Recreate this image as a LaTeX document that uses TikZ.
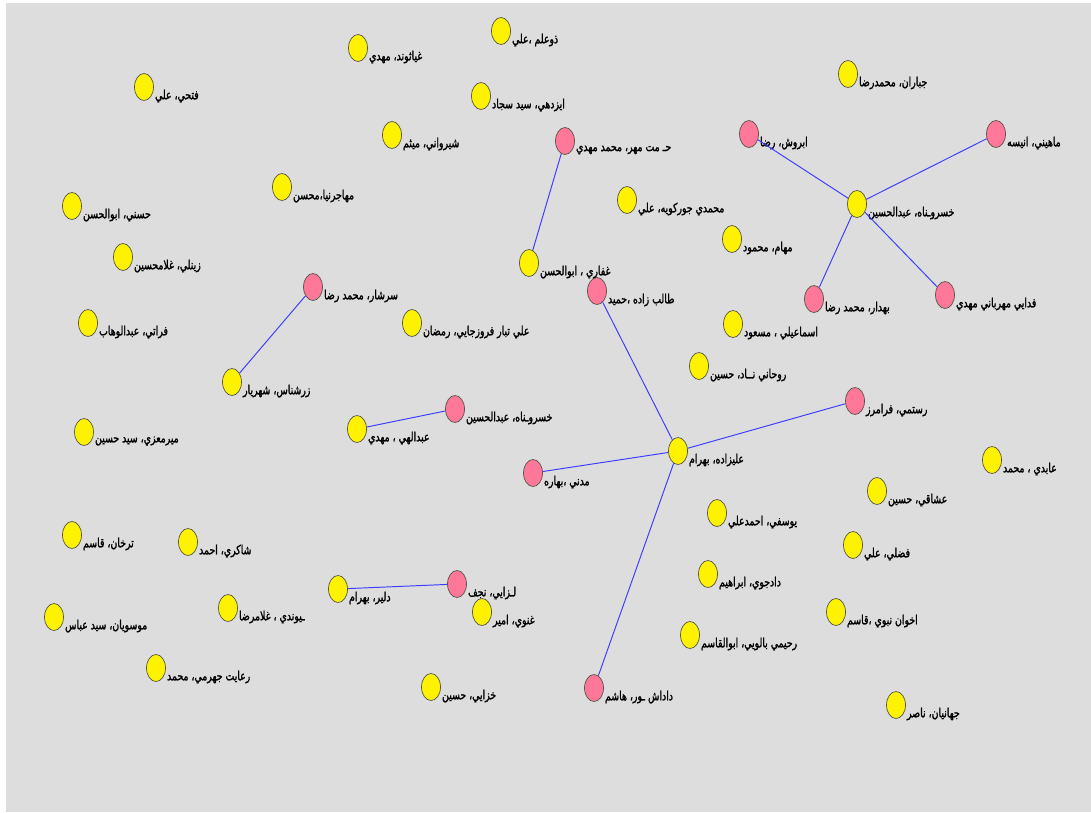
\documentclass[tikz,border=0pt]{standalone}
\usepackage{fontspec}
\usetikzlibrary{shapes.geometric}
\TeXXeTstate=1
\newfontfamily\arabicfont[Script=Arabic,FakeStretch=0.74,FakeBold=1.6]{DejaVu Sans}
\newcommand{\pname}[1]{{\arabicfont\beginR #1\endR}}
\definecolor{bggray}{RGB}{221,221,221}
\definecolor{nodepink}{RGB}{255,119,153}
\definecolor{nodeline}{RGB}{85,85,70}
\definecolor{linkblue}{RGB}{60,60,255}
\begin{document}
\begin{tikzpicture}[x=0.02cm,y=-0.02cm,member/.style={ellipse,draw=nodeline,line width=0.4pt,minimum width=0.38cm,minimum height=0.54cm,inner sep=0pt},plain/.style={member,fill=yellow},linked/.style={member,fill=nodepink},tag/.style={anchor=west,inner sep=0.5pt,yshift=-0.18cm,font=\fontsize{7.2}{8}\selectfont},tie/.style={draw=linkblue,line width=0.55pt}]
\fill[white] (0,0) rectangle (1091,812);
\fill[bggray] (6,3) rectangle (1091,812);
% people
\node[plain] (fathi) at (144,87) {};
\node[plain] (hasani) at (72,206) {};
\node[plain] (zeinali) at (123,257) {};
\node[plain] (zolelm) at (501,31) {};
\node[plain] (ghiasvand) at (358,48) {};
\node[plain] (izadi) at (481,96) {};
\node[plain] (shirvani) at (392,135) {};
\node[plain] (mohajer) at (282,187) {};
\node[plain] (ghaffari) at (529,263) {};
\node[linked] (hekmat) at (565,141) {};
\node[linked] (abravesh) at (749,134) {};
\node[plain] (mohammadi) at (627,200) {};
\node[plain] (mahaam) at (732,239) {};
\node[plain] (jabbaran) at (848,74) {};
\node[linked] (mahini) at (996,134) {};
\node[plain] (khosroA) at (857,204) {};
\node[plain] (forati) at (88,323) {};
\node[plain] (zarshenas) at (232,382) {};
\node[plain] (mirmoezi) at (84,432) {};
\node[plain] (tarkhan) at (72,535) {};
\node[plain] (shakeri) at (188,542) {};
\node[linked] (sarshar) at (313,287) {};
\node[plain] (alitabar) at (412,323) {};
\node[linked] (khosroB) at (455,409) {};
\node[plain] (abdollahi) at (357,429) {};
\node[linked] (madani) at (533,473) {};
\node[linked] (talebzadeh) at (597,291) {};
\node[plain] (esmaili) at (733,324) {};
\node[plain] (rouhani) at (699,366) {};
\node[plain] (alizadeh) at (678,451) {};
\node[plain] (yousefi) at (717,513) {};
\node[linked] (behdar) at (814,299) {};
\node[linked] (fadaei) at (945,295) {};
\node[linked] (rostami) at (855,401) {};
\node[plain] (abedi) at (992,460) {};
\node[plain] (oshaghi) at (877,491) {};
\node[plain] (fazli) at (853,545) {};
\node[plain] (mousavian) at (54,617) {};
\node[plain] (peivandi) at (228,608) {};
\node[plain] (reayat) at (156,668) {};
\node[plain] (dalir) at (338,589) {};
\node[linked] (lakzaei) at (457,584) {};
\node[plain] (ghanavi) at (482,612) {};
\node[plain] (khazaei) at (431,687) {};
\node[plain] (dadjoo) at (708,574) {};
\node[plain] (rahimi) at (690,635) {};
\node[linked] (dadashpour) at (594,688) {};
\node[plain] (akhavan) at (836,612) {};
\node[plain] (jahanian) at (896,705) {};
% names
\node[tag] (fathi-n) at (fathi.east) {\pname{فتحي، علي}};
\node[tag] (hasani-n) at (hasani.east) {\pname{حسني، ابوالحسن}};
\node[tag] (zeinali-n) at (zeinali.east) {\pname{زينلي، غلامحسين}};
\node[tag] (zolelm-n) at (zolelm.east) {\pname{ذوعلم ،علي}};
\node[tag] (ghiasvand-n) at (ghiasvand.east) {\pname{غياثوند، مهدي}};
\node[tag] (izadi-n) at (izadi.east) {\pname{ايزدهي، سيد سجاد}};
\node[tag] (shirvani-n) at (shirvani.east) {\pname{شيرواني، ميثم}};
\node[tag] (mohajer-n) at (mohajer.east) {\pname{مهاجرنيا،محسن}};
\node[tag] (ghaffari-n) at (ghaffari.east) {\pname{غفاري ، ابوالحسن}};
\node[tag] (hekmat-n) at (hekmat.east) {\pname{حـ مت مهر، محمد مهدي}};
\node[tag] (abravesh-n) at (abravesh.east) {\pname{ابروش، رضا}};
\node[tag] (mohammadi-n) at (mohammadi.east) {\pname{محمدي جوركويه، علي}};
\node[tag] (mahaam-n) at (mahaam.east) {\pname{مهام، محمود}};
\node[tag] (jabbaran-n) at (jabbaran.east) {\pname{جباران، محمدرضا}};
\node[tag] (mahini-n) at (mahini.east) {\pname{ماهيني، انيسه}};
\node[tag] (khosroA-n) at (khosroA.east) {\pname{خسروـناه، عبدالحسين}};
\node[tag] (forati-n) at (forati.east) {\pname{فراتي، عبدالوهاب}};
\node[tag] (zarshenas-n) at (zarshenas.east) {\pname{زرشناس، شهريار}};
\node[tag] (mirmoezi-n) at (mirmoezi.east) {\pname{ميرمعزي، سيد حسين}};
\node[tag] (tarkhan-n) at (tarkhan.east) {\pname{ترخان، قاسم}};
\node[tag] (shakeri-n) at (shakeri.east) {\pname{شاكري، احمد}};
\node[tag] (sarshar-n) at (sarshar.east) {\pname{سرشار، محمد رضا}};
\node[tag] (alitabar-n) at (alitabar.east) {\pname{علي تبار فروزجايي، رمضان}};
\node[tag] (khosroB-n) at (khosroB.east) {\pname{خسروـناه، عبدالحسين}};
\node[tag] (abdollahi-n) at (abdollahi.east) {\pname{عبدالهي ، مهدي}};
\node[tag] (madani-n) at (madani.east) {\pname{مدني ،بهاره}};
\node[tag] (talebzadeh-n) at (talebzadeh.east) {\pname{طالب زاده ،حميد}};
\node[tag] (esmaili-n) at (esmaili.east) {\pname{اسماعيلي ، مسعود}};
\node[tag] (rouhani-n) at (rouhani.east) {\pname{روحاني نــاد، حسين}};
\node[tag] (alizadeh-n) at (alizadeh.east) {\pname{عليزاده، بهرام}};
\node[tag] (yousefi-n) at (yousefi.east) {\pname{يوسفي، احمدعلي}};
\node[tag] (behdar-n) at (behdar.east) {\pname{بهدار، محمد رضا}};
\node[tag] (fadaei-n) at (fadaei.east) {\pname{فدايي مهرباني مهدي}};
\node[tag] (rostami-n) at (rostami.east) {\pname{رستمي، فرامرز}};
\node[tag] (abedi-n) at (abedi.east) {\pname{عابدي ، محمد}};
\node[tag] (oshaghi-n) at (oshaghi.east) {\pname{عشاقي، حسين}};
\node[tag] (fazli-n) at (fazli.east) {\pname{فضلي، علي}};
\node[tag] (mousavian-n) at (mousavian.east) {\pname{موسويان، سيد عباس}};
\node[tag] (peivandi-n) at (peivandi.east) {\pname{ـيوندي ، غلامرضا}};
\node[tag] (reayat-n) at (reayat.east) {\pname{رعايت جهرمي، محمد}};
\node[tag] (dalir-n) at (dalir.east) {\pname{دلير، بهرام}};
\node[tag] (lakzaei-n) at (lakzaei.east) {\pname{لـزايي، نجف}};
\node[tag] (ghanavi-n) at (ghanavi.east) {\pname{غنوي، امير}};
\node[tag] (khazaei-n) at (khazaei.east) {\pname{خزايي، حسين}};
\node[tag] (dadjoo-n) at (dadjoo.east) {\pname{دادجوي، ابراهيم}};
\node[tag] (rahimi-n) at (rahimi.east) {\pname{رحيمي بالويي، ابوالقاسم}};
\node[tag] (dadashpour-n) at (dadashpour.east) {\pname{داداش ـور، هاشم}};
\node[tag] (akhavan-n) at (akhavan.east) {\pname{اخوان نبوي ،قاسم}};
\node[tag] (jahanian-n) at (jahanian.east) {\pname{جهانيان، ناصر}};
% ties
\draw[tie] (sarshar) -- (zarshenas);
\draw[tie] (hekmat) -- (ghaffari);
\draw[tie] (khosroA) -- (abravesh);
\draw[tie] (khosroA) -- (mahini);
\draw[tie] (khosroA) -- (behdar);
\draw[tie] (khosroA) -- (fadaei);
\draw[tie] (khosroB) -- (abdollahi);
\draw[tie] (alizadeh) -- (talebzadeh);
\draw[tie] (alizadeh) -- (madani);
\draw[tie] (alizadeh) -- (rostami);
\draw[tie] (alizadeh) -- (dadashpour);
\draw[tie] (dalir) -- (lakzaei);
\end{tikzpicture}
\end{document}
